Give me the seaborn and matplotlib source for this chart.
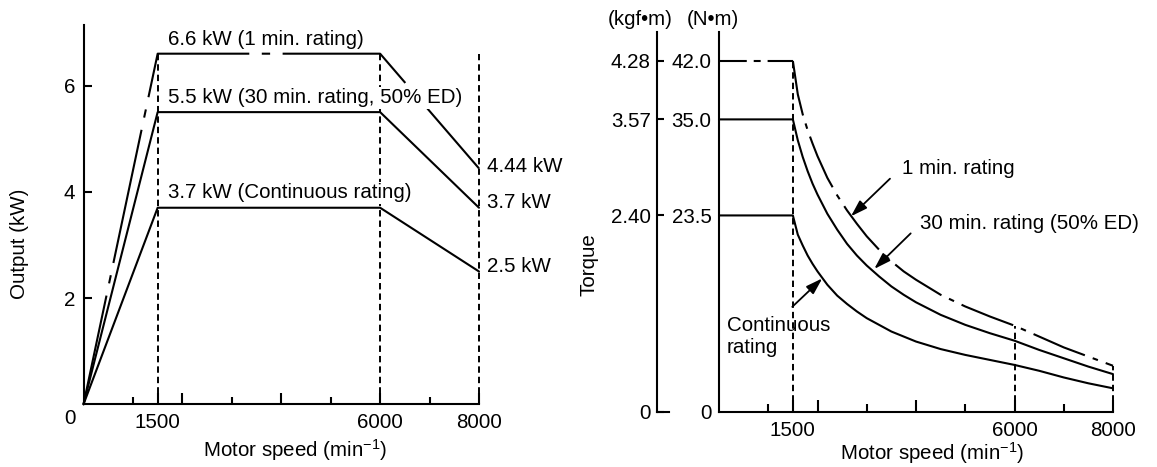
import matplotlib
matplotlib.use("Agg")
import matplotlib.pyplot as plt
import seaborn as sns

# ---------------- data: output chart (left) ----------------
out_speed = [0, 1500, 6000, 8000]
out_1min = [0, 6.6, 6.6, 4.44]
out_30min = [0, 5.5, 5.5, 3.7]
out_cont = [0, 3.7, 3.7, 2.5]
out_guide_x = [1500, 6000, 8000]
out_guide_top = [6.6, 6.6, 6.6]
out_yticks = [2, 4, 6]
out_series_labels = ["6.6 kW (1 min. rating)", "5.5 kW (30 min. rating, 50% ED)",
                     "3.7 kW (Continuous rating)"]
out_end_labels = ["4.44 kW", "3.7 kW", "2.5 kW"]

# shared speed axis
speed_major = [1500, 2000, 4000, 6000, 8000]
speed_major_labels = ["1500", "", "", "6000", "8000"]
speed_minor = [1000, 3000, 5000, 7000]

# ---------------- data: torque chart (right) ----------------
tq_speed = [0, 1500, 1600, 1700, 1800, 1900, 2000, 2200, 2400, 2600, 2800, 3000,
            3250, 3500, 3750, 4000, 4500, 5000, 5500, 6000, 6500, 7000, 7500, 8000]
tq_1min = [42.0, 42.0, 38.0, 35.6, 33.7, 32.1, 30.6, 28.0, 25.9, 24.1, 22.5, 21.0,
           19.4, 18.0, 16.8, 15.8, 14.0, 12.6, 11.4, 10.3, 9.0, 7.7, 6.6, 5.5]
tq_30min = [35.0, 35.0, 32.5, 30.5, 28.8, 27.3, 26.0, 23.7, 21.8, 20.1, 18.7, 17.5,
            16.2, 15.0, 14.0, 13.1, 11.6, 10.4, 9.4, 8.5, 7.4, 6.4, 5.4, 4.5]
tq_cont = [23.5, 23.5, 21.2, 19.9, 18.7, 17.7, 16.8, 15.2, 13.9, 12.9, 12.0, 11.2,
           10.4, 9.6, 9.0, 8.4, 7.5, 6.8, 6.2, 5.6, 4.9, 4.1, 3.4, 2.8]
tq_guide_x = [1500, 6000, 8000]
tq_guide_top = [42.0, 10.3, 5.5]
nm_ticks = [0, 23.5, 35.0, 42.0]
nm_labels = ["0", "23.5", "35.0", "42.0"]
kgf_labels = ["0", "2.40", "3.57", "4.28"]
tq_annot = ["1 min. rating", "30 min. rating (50% ED)", "Continuous\nrating"]

# ---------------- style ----------------
sns.set_theme(style="ticks")
plt.rcParams["font.family"] = ["Liberation Sans", "DejaVu Sans"]
plt.rcParams["mathtext.fontset"] = "custom"
plt.rcParams["mathtext.rm"] = "Liberation Sans"
plt.rcParams["mathtext.it"] = "Liberation Sans:italic"
plt.rcParams["mathtext.bf"] = "Liberation Sans:bold"
plt.rcParams["lines.scale_dashes"] = False
plt.rcParams["axes.linewidth"] = 1.5
plt.rcParams["axes.edgecolor"] = "black"
plt.rcParams["text.color"] = "black"
plt.rcParams["axes.labelcolor"] = "black"
plt.rcParams["xtick.color"] = "black"
plt.rcParams["ytick.color"] = "black"

FS = 14.8
LW = 1.5
K = "black"
DASH = (0, (4.6, 2.9))

W, H = 1157, 467
fig = plt.figure(figsize=(W / 100, H / 100), dpi=100)
fig.patch.set_facecolor("white")


def px_axes(x0, x1, y_top, y_bottom):
    return fig.add_axes([x0 / W, 1 - y_bottom / H, (x1 - x0) / W, (y_bottom - y_top) / H])


axL = px_axes(83.5, 479.0, 25, 404.3)
axK = px_axes(657.3, 669.3, 31.7, 411.7)
axR = px_axes(719, 1113, 31.7, 411.7)

for ax in (axL, axK, axR):
    ax.set_facecolor("none")
    ax.spines["top"].set_visible(False)
    ax.spines["right"].set_visible(False)

# ================= left: output =================
axL.set_xlim(0, 8000)
axL.set_ylim(0, 7.14)
sns.lineplot(x=out_speed, y=out_1min, ax=axL, color=K, lw=LW, sort=False,
             estimator=None, linestyle=(18, (98, 9, 6, 9)), clip_on=False)
sns.lineplot(x=out_speed, y=out_30min, ax=axL, color=K, lw=LW, sort=False,
             estimator=None, clip_on=False)
sns.lineplot(x=out_speed, y=out_cont, ax=axL, color=K, lw=LW, sort=False,
             estimator=None, clip_on=False)
axL.vlines(out_guide_x, 0, out_guide_top, colors=K, linestyles=[DASH], lw=1.4, clip_on=False)

axL.set_xticks(speed_major, speed_major_labels)
axL.set_xticks(speed_minor, minor=True)
axL.tick_params(axis="x", which="major", direction="in", length=8, width=LW, pad=6, labelsize=FS)
axL.tick_params(axis="x", which="minor", direction="in", length=5.4, width=LW)
axL.set_yticks(out_yticks)
axL.tick_params(axis="y", which="major", direction="in", length=5.8, width=LW, pad=6, labelsize=FS)
axL.text(-273, -0.26, "0", ha="center", va="center", fontsize=FS)

box = dict(fc="white", ec="none", pad=1.0)
axL.text(1717, 6.86, out_series_labels[0], ha="left", va="center", fontsize=FS, bbox=box)
axL.text(1717, 5.77, out_series_labels[1], ha="left", va="center", fontsize=FS, bbox=box)
axL.text(1717, 3.98, out_series_labels[2], ha="left", va="center", fontsize=FS, bbox=box)
axL.text(8162, 4.47, out_end_labels[0], ha="left", va="center", fontsize=FS)
axL.text(8162, 3.79, out_end_labels[1], ha="left", va="center", fontsize=FS)
axL.text(8162, 2.59, out_end_labels[2], ha="left", va="center", fontsize=FS)

axL.set_xlabel(r"Motor speed (min$^{-1}$)", fontsize=FS, va="center")
axL.xaxis.set_label_coords((295 - 83.5) / 395, (404.3 - 450) / 379.3)
axL.set_ylabel("Output (kW)", fontsize=FS, va="center")
axL.yaxis.set_label_coords((19.3 - 83.5) / 395, (404.3 - 244) / 379.3)

# ================= right: torque =================
axR.set_xlim(0, 8000)
axR.set_ylim(0, 45.5)
sns.lineplot(x=tq_speed[:2], y=tq_1min[:2], ax=axR, color=K, lw=LW, sort=False,
             estimator=None, linestyle=(0, (20, 5, 5, 5)), clip_on=False)
sns.lineplot(x=tq_speed[1:], y=tq_1min[1:], ax=axR, color=K, lw=LW, sort=False,
             estimator=None, linestyle=(0, (40, 6, 4, 6)), clip_on=False)
sns.lineplot(x=tq_speed, y=tq_30min, ax=axR, color=K, lw=LW, sort=False,
             estimator=None, clip_on=False)
sns.lineplot(x=tq_speed, y=tq_cont, ax=axR, color=K, lw=LW, sort=False,
             estimator=None, clip_on=False)
axR.vlines(tq_guide_x, 0, tq_guide_top, colors=K, linestyles=[DASH], lw=1.4, clip_on=False)

axR.set_xticks(speed_major, speed_major_labels)
axR.set_xticks(speed_minor, minor=True)
axR.tick_params(axis="x", which="major", direction="in", length=8.4, width=LW, pad=7, labelsize=FS)
axR.tick_params(axis="x", which="minor", direction="in", length=6, width=LW)
axR.set_yticks(nm_ticks, nm_labels)
axR.tick_params(axis="y", which="major", direction="in", length=0, pad=5.3, labelsize=FS)

axK.set_xlim(0, 1)
axK.set_ylim(0, 45.5)
axK.set_xticks([])
axK.set_yticks(nm_ticks, kgf_labels)
axK.tick_params(axis="y", which="major", direction="in", length=5, width=LW, pad=4.8, labelsize=FS)
axK.set_ylabel("Torque", fontsize=FS, va="center")
axK.yaxis.set_label_coords((589 - 657.3) / 12, (411.7 - 265) / 380)

fig.text(640 / W, 1 - 19.3 / H, "(kgf\u2022m)", ha="center", va="center", fontsize=FS)
fig.text(713 / W, 1 - 19.3 / H, "(N\u2022m)", ha="center", va="center", fontsize=FS)

axR.text(3710, 29.1, tq_annot[0], ha="left", va="center", fontsize=FS)
axR.text(4081, 22.5, tq_annot[1], ha="left", va="center", fontsize=FS)
axR.text(162, 9.0, tq_annot[2], ha="left", va="center", fontsize=FS, linespacing=1.15)

arrow = dict(arrowstyle="-|>,head_length=1.0,head_width=0.32", color=K, lw=1.3,
             shrinkA=0, shrinkB=0, mutation_scale=10)
axR.annotate("", xy=(2680, 23.4), xytext=(3472, 27.9), arrowprops=arrow)
axR.annotate("", xy=(3153, 17.1), xytext=(3892, 21.35), arrowprops=arrow)
axR.annotate("", xy=(2097, 15.96), xytext=(1488, 12.56), arrowprops=arrow)

axR.set_xlabel(r"Motor speed (min$^{-1}$)", fontsize=FS, va="center")
axR.xaxis.set_label_coords((932 - 719) / 394, (411.7 - 453.3) / 380)

fig.savefig("out.png", dpi=100, facecolor="white")
